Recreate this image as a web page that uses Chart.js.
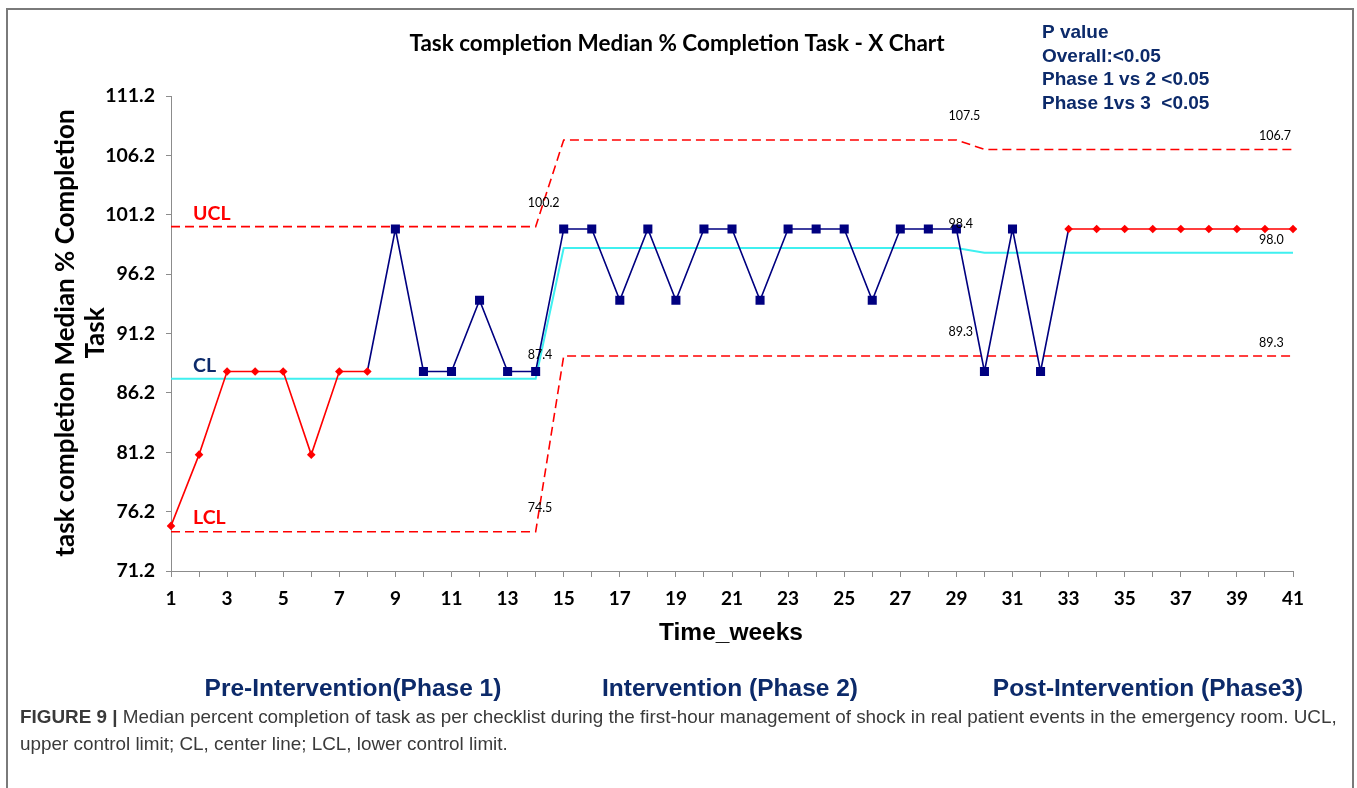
<!DOCTYPE html>
<html>
<head>
<meta charset="utf-8">
<script src="https://cdn.jsdelivr.net/npm/chart.js@4.4.1/dist/chart.umd.min.js"></script>
<style>
  html, body { margin: 0; padding: 0; background: #fff; }
  #wrap { position: relative; width: 1357px; height: 788px; }
</style>
</head>
<body>
<div id="wrap"><canvas id="c" width="1357" height="788"></canvas></div>
<script>
// ---------- DATA ----------
const weeks = ['1','2','3','4','5','6','7','8','9','10','11','12','13','14','15','16','17','18','19','20',
               '21','22','23','24','25','26','27','28','29','30','31','32','33','34','35','36','37','38','39','40','41'];
const median = [75, 81, 88, 88, 88, 81, 88, 88, 100, 88, 88, 94, 88, 88,
                100, 100, 94, 100, 94, 100, 100, 94, 100, 100, 100, 94, 100, 100, 100,
                88, 100, 88, 100, 100, 100, 100, 100, 100, 100, 100, 100];
const ucl = [100.2,100.2,100.2,100.2,100.2,100.2,100.2,100.2,100.2,100.2,100.2,100.2,100.2,100.2,
             107.5,107.5,107.5,107.5,107.5,107.5,107.5,107.5,107.5,107.5,107.5,107.5,107.5,107.5,107.5,
             106.7,106.7,106.7,106.7,106.7,106.7,106.7,106.7,106.7,106.7,106.7,106.7];
const cl  = [87.4,87.4,87.4,87.4,87.4,87.4,87.4,87.4,87.4,87.4,87.4,87.4,87.4,87.4,
             98.4,98.4,98.4,98.4,98.4,98.4,98.4,98.4,98.4,98.4,98.4,98.4,98.4,98.4,98.4,
             98.0,98.0,98.0,98.0,98.0,98.0,98.0,98.0,98.0,98.0,98.0,98.0];
const lcl = [74.5,74.5,74.5,74.5,74.5,74.5,74.5,74.5,74.5,74.5,74.5,74.5,74.5,74.5,
             89.3,89.3,89.3,89.3,89.3,89.3,89.3,89.3,89.3,89.3,89.3,89.3,89.3,89.3,89.3,
             89.3,89.3,89.3,89.3,89.3,89.3,89.3,89.3,89.3,89.3,89.3,89.3];
const yTicks = [71.2, 76.2, 81.2, 86.2, 91.2, 96.2, 101.2, 106.2, 111.2];
// weeks (1-based) plotted as red diamonds; the rest are navy squares
const redWeeksA = [1, 8];    // first red run (inclusive)
const redWeeksB = [33, 41];  // second red run (inclusive)
// weeks at which limit values are labelled (end of each phase)
const phaseEndWeeks = [14, 29, 41];
const phaseLabels = ['Pre-Intervention(Phase 1)', 'Intervention (Phase 2)', 'Post-Intervention (Phase3)'];
const pValueLines = ['P value', 'Overall:<0.05', 'Phase 1 vs 2 <0.05', 'Phase 1vs 3  <0.05'];
const captionBold = 'FIGURE 9 | ';
const captionLine1 = 'Median percent completion of task as per checklist during the first-hour management of shock in real patient events in the emergency room. UCL,';
const captionLine2 = 'upper control limit; CL, center line; LCL, lower control limit.';

// ---------- derived series ----------
const inRed = w => (w >= redWeeksA[0] && w <= redWeeksA[1]) || (w >= redWeeksB[0] && w <= redWeeksB[1]);
const redData = median.map((v, i) => inRed(i + 1) ? v : null);
const navyData = median.map((v, i) => (i + 1 >= redWeeksA[1] && i + 1 <= redWeeksB[0]) ? v : null);
const navyRadius = median.map((v, i) => inRed(i + 1) ? 0 : 6.4);

const NAVY = '#000080';
const TXTNAVY = '#0c2a6a';
const RED = '#ff0000';

const annot = {
  id: 'annot',
  beforeDraw(chart) {
    const ctx = chart.ctx;
    ctx.save();
    ctx.fillStyle = '#fff';
    ctx.fillRect(0, 0, chart.width, chart.height);
    ctx.strokeStyle = '#7a7a7a';
    ctx.lineWidth = 2;
    ctx.strokeRect(7, 9, 1346, 800);
    ctx.restore();
  },
  afterDatasetsDraw(chart) {
    const ctx = chart.ctx;
    const xs = chart.scales.x, ys = chart.scales.y;
    ctx.save();
    ctx.font = '12.5px Lato';
    ctx.fillStyle = '#000';
    ctx.textBaseline = 'middle';
    ctx.textAlign = 'left';
    phaseEndWeeks.forEach((w, k) => {
      const i = w - 1;
      const x = xs.getPixelForValue(i);
      const dx = k === 2 ? -34 : -8;
      const dy = k === 2 ? -13 : -24;
      [ucl, cl, lcl].forEach(arr => {
        ctx.fillText(arr[i].toFixed(1), x + dx, ys.getPixelForValue(arr[i]) + dy);
      });
    });
    ctx.restore();
  },
  afterDraw(chart) {
    const ctx = chart.ctx;
    ctx.save();
    ctx.textBaseline = 'middle';
    // title
    ctx.fillStyle = '#000';
    ctx.textAlign = 'center';
    ctx.font = 'bold 22.5px Lato';
    ctx.fillText('Task completion Median % Completion Task - X Chart', 677, 44);
    // p-value block
    ctx.textAlign = 'left';
    ctx.fillStyle = TXTNAVY;
    ctx.font = 'bold 19px "Liberation Sans"';
    pValueLines.forEach((t, k) => ctx.fillText(t, 1042, 33 + k * 23.5));
    // UCL / CL / LCL labels
    ctx.font = 'bold 19.5px Lato';
    ctx.fillStyle = RED;
    ctx.fillText('UCL', 193, 214);
    ctx.fillText('LCL', 193, 518);
    ctx.fillStyle = TXTNAVY;
    ctx.fillText('CL', 193, 366);
    // y-axis title
    ctx.fillStyle = '#000';
    ctx.font = 'bold 26px Lato';
    ctx.textAlign = 'center';
    ctx.save();
    ctx.translate(66, 333);
    ctx.rotate(-Math.PI / 2);
    ctx.fillText('task completion Median % Completion', 0, 0);
    ctx.restore();
    ctx.save();
    ctx.translate(96, 333);
    ctx.rotate(-Math.PI / 2);
    ctx.fillText('Task', 0, 0);
    ctx.restore();
    // x-axis title
    ctx.font = 'bold 24.5px "Liberation Sans"';
    ctx.fillText('Time_weeks', 731, 633);
    // phase labels
    ctx.fillStyle = TXTNAVY;
    ctx.font = 'bold 24.5px "Liberation Sans"';
    const phaseX = [353, 730, 1148];
    phaseLabels.forEach((t, k) => ctx.fillText(t, phaseX[k], 689));
    // caption
    ctx.textAlign = 'left';
    ctx.fillStyle = '#3a3a3a';
    let fs = 16;
    ctx.font = 'bold ' + fs + 'px "Liberation Sans"';
    let w = ctx.measureText(captionBold).width;
    ctx.font = fs + 'px "Liberation Sans"';
    w += ctx.measureText(captionLine1).width;
    fs = fs * 1318 / w;
    ctx.font = 'bold ' + fs + 'px "Liberation Sans"';
    ctx.fillText(captionBold, 20, 718);
    const bw = ctx.measureText(captionBold).width;
    ctx.font = fs + 'px "Liberation Sans"';
    ctx.fillText(captionLine1, 20 + bw, 718);
    ctx.fillText(captionLine2, 20, 745);
    ctx.restore();
  }
};

const ctx = document.getElementById('c').getContext('2d');
new Chart(ctx, {
  type: 'line',
  data: {
    labels: weeks,
    datasets: [
      { label: 'Median (phase 1/3)', data: redData, borderColor: RED, backgroundColor: RED,
        borderWidth: 1.6, pointStyle: 'rectRot', pointRadius: 4.3, pointBorderWidth: 0,
        spanGaps: false, order: 0, tension: 0 },
      { label: 'Median', data: navyData, borderColor: NAVY, backgroundColor: NAVY,
        borderWidth: 1.6, pointStyle: 'rect', pointRadius: navyRadius, pointBorderWidth: 0,
        spanGaps: false, order: 1, tension: 0 },
      { label: 'CL', data: cl, borderColor: '#3ff0f0', borderWidth: 2, pointRadius: 0, order: 2, tension: 0 },
      { label: 'UCL', data: ucl, borderColor: RED, borderWidth: 1.6, borderDash: [9, 5], pointRadius: 0, order: 3, tension: 0 },
      { label: 'LCL', data: lcl, borderColor: RED, borderWidth: 1.6, borderDash: [9, 5], pointRadius: 0, order: 4, tension: 0 }
    ]
  },
  options: {
    responsive: false,
    animation: false,
    events: [],
    layout: { padding: { top: 96, right: 64, left: 0, bottom: 0 } },
    plugins: { legend: { display: false }, tooltip: { enabled: false }, title: { display: false } },
    scales: {
      x: {
        type: 'category',
        offset: false,
        afterFit(s) { s.height = 788 - 571; },
        grid: { display: true, drawOnChartArea: false, drawTicks: true, tickLength: 6, color: '#8c8c8c', lineWidth: 1 },
        border: { display: true, color: '#8c8c8c', width: 1 },
        ticks: {
          autoSkip: false, maxRotation: 0, minRotation: 0, padding: 10,
          color: '#000', font: { family: 'Lato', weight: 'bold', size: 19 },
          callback(v, i) { return i % 2 === 0 ? weeks[i] : ''; }
        }
      },
      y: {
        type: 'linear',
        min: yTicks[0], max: yTicks[yTicks.length - 1],
        afterFit(s) { s.width = 171; },
        afterBuildTicks(s) { s.ticks = yTicks.map(v => ({ value: v })); },
        grid: { display: true, drawOnChartArea: false, drawTicks: true, tickLength: 5, color: '#8c8c8c', lineWidth: 1 },
        border: { display: true, color: '#8c8c8c', width: 1 },
        ticks: {
          padding: 11, color: '#000', font: { family: 'Lato', weight: 'bold', size: 19.5 },
          callback(v) { return Number(v).toFixed(1); }
        }
      }
    }
  },
  plugins: [annot]
});
</script>
</body>
</html>
